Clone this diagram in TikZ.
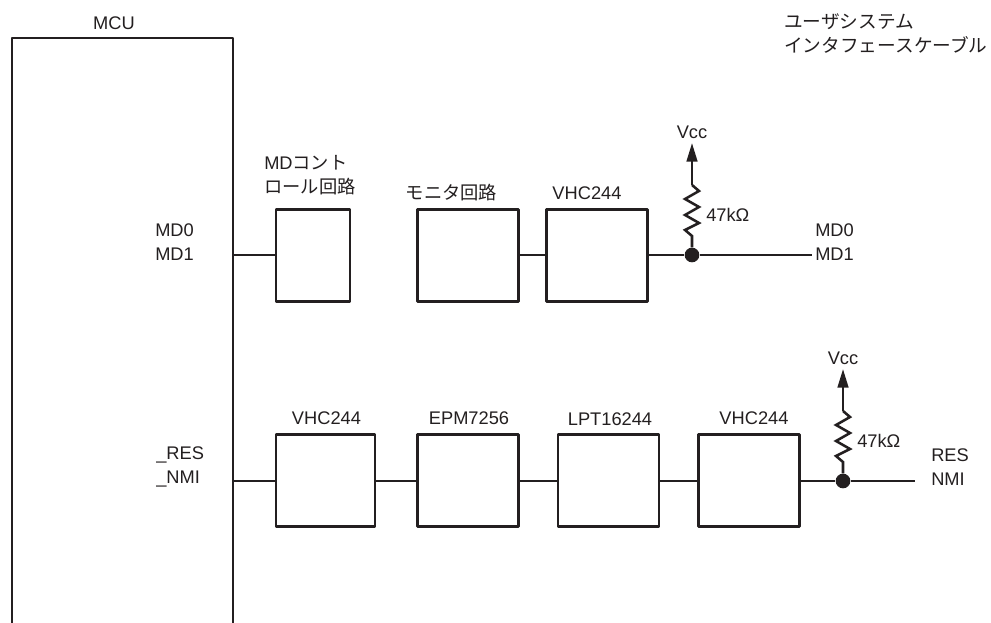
\documentclass[tikz,border=0pt]{standalone}
\usepackage{fontspec}
\setmainfont{Liberation Sans}
\newfontfamily\jpfont{Noto Sans CJK JP}
\usetikzlibrary{arrows.meta,positioning}
\definecolor{ink}{HTML}{231F20}
\tikzset{
  wire/.style={ink, line width=1.9pt},
  blockbox/.style={draw=ink, line width=1.9pt, line join=round, minimum height=69pt, inner sep=0pt},
  caption/.style={ink, font=\fontsize{13.7}{18}\selectfont, inner sep=0pt, align=left},
  junction/.style={circle, fill=ink, minimum size=11pt, inner sep=0pt}
}

\begin{document}
\begin{tikzpicture}[>={Triangle[length=14pt,width=8pt]}, x=0.75pt, y=-0.75pt]
\useasboundingbox (0,0) rectangle (991,623);

% ---------- MCU, open at the bottom
\draw[wire, line join=round] (12,623) -- (12,38) -- (233,38) -- (233,623);
\coordinate (mcumd) at (233,255);
\coordinate (mcures) at (233,481);
\node[caption] (mcu) at (114,23) {MCU};
\node[caption, anchor=west] (mdpins) at (155,242) {MD0\\MD1};
\node[caption, anchor=west] (respins) at (156,467) {\_RES\\\_NMI};
\node[caption, anchor=west] (cable) at (784,34) {\jpfont\fontsize{14}{18}\selectfont ユーザシステム\\\jpfont\fontsize{14}{18}\selectfont インタフェースケーブル};

% ---------- MD row
\node[blockbox, minimum width=55.5pt] (mdctl) at (313,255.5) {};
\node[blockbox, minimum width=76pt] (monitor) at (468,255.5) {};
\node[blockbox, minimum width=76pt] (vhcmd) at (597,255.5) {};
\node[caption, anchor=west] (mdctltxt) at (264,175) {MD\jpfont コント\\\jpfont ロール回路};
\node[caption] (monitortxt) at (451.5,193) {\jpfont モニタ回路};
\node[caption] (vhcmdtxt) at (587,193) {VHC244};
\coordinate (endmd) at (812,255);
\node[caption, anchor=west] (mdout) at (815,242) {MD0\\MD1};

% ---------- RES row
\node[blockbox, minimum width=74pt] (vhcin) at (325.5,480.5) {};
\node[blockbox, minimum width=76pt] (epm) at (468,480.5) {};
\node[blockbox, minimum width=76pt] (lpt) at (608.5,480.5) {};
\node[blockbox, minimum width=76pt] (vhcout) at (749,480.5) {};
\node[caption] (vhcintxt) at (326.5,418) {VHC244};
\node[caption] (epmtxt) at (469,418) {EPM7256};
\node[caption] (lpttxt) at (610,419) {LPT16244};
\node[caption] (vhcouttxt) at (754,418) {VHC244};
\coordinate (endres) at (915,481);
\node[caption, anchor=west] (resout) at (931,467) {RES\\NMI};

% ---------- pull-ups
\foreach \n/\x/\y in {md/692/255, res/843/481}{
  \node[junction] (dot\n) at (\x,\y) {};
  \coordinate (tip\n) at (\x,\y-112);
  \coordinate (rtop\n) at (\x,\y-70);
  \coordinate (rbot\n) at (\x,\y-19);
  \node[caption, above=3pt of tip\n] (vcc\n) {Vcc};
  \node[caption, anchor=west] (ohm\n) at (\x+14,\y-40) {47kΩ};
  \draw[wire, ->] (rtop\n) -- (tip\n);
  \draw[wire, line join=miter] (dot\n) -- (rbot\n) -- (\x-7,\y-25) -- (\x+7,\y-32)
    -- (\x-7,\y-40) -- (\x+7,\y-48) -- (\x-7,\y-56) -- (\x+7,\y-64) -- (rtop\n);
}

% ---------- wires
\draw[wire] (mcumd) -- (mdctl.west |- mcumd);
\draw[wire] (monitor.east |- mcumd) -- (vhcmd.west |- mcumd);
\draw[wire] (vhcmd.east |- mcumd) -- (dotmd) -- (endmd);
\draw[wire] (mcures) -- (vhcin.west |- mcures);
\draw[wire] (vhcin.east |- mcures) -- (epm.west |- mcures);
\draw[wire] (epm.east |- mcures) -- (lpt.west |- mcures);
\draw[wire] (lpt.east |- mcures) -- (vhcout.west |- mcures);
\draw[wire] (vhcout.east |- mcures) -- (dotres) -- (endres);

\end{tikzpicture}
\end{document}
